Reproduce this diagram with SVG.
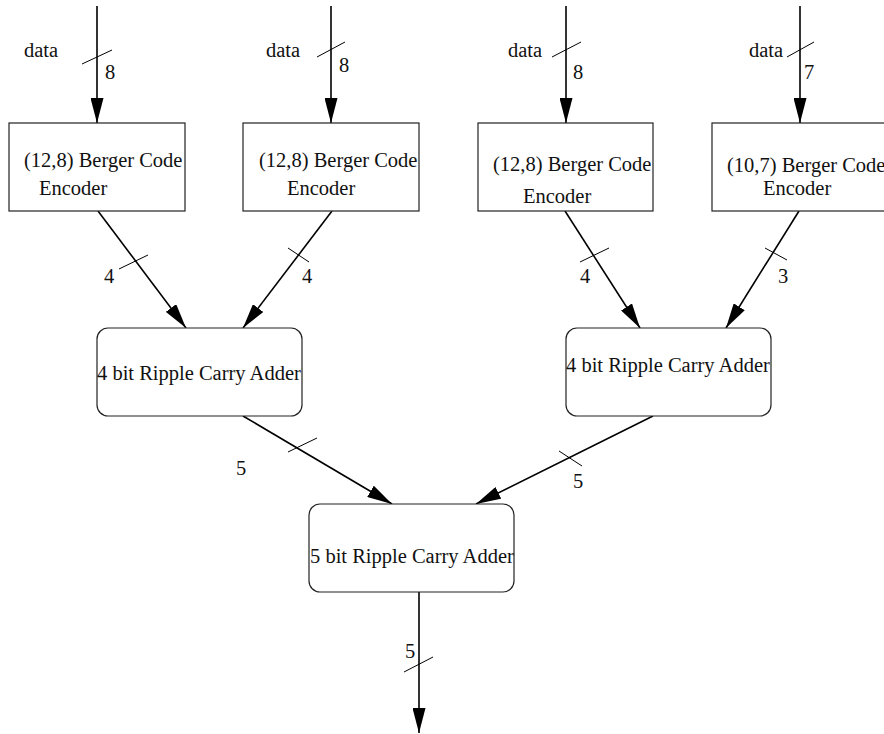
<svg xmlns="http://www.w3.org/2000/svg" width="884" height="734" viewBox="0 0 884 734">
<style>
text{font-family:"Liberation Serif","Times New Roman",serif;font-size:20.5px;fill:#111}
.box{fill:#fff;stroke:#222;stroke-width:1.2}
.w{stroke:#000;stroke-width:1.6;fill:none}
.s{stroke:#000;stroke-width:1;fill:none}
</style>
<defs>
<marker id="ah" viewBox="0 0 25 13" refX="25" refY="6.5" markerWidth="25" markerHeight="13" markerUnits="userSpaceOnUse" orient="auto"><path d="M0,0 L25,6.5 L0,13 z" fill="#000"/></marker>
</defs>
<g id="connectors">
<line class="w" x1="97" y1="6" x2="97" y2="123" marker-end="url(#ah)"/>
<line class="w" x1="331" y1="6" x2="331" y2="123" marker-end="url(#ah)"/>
<line class="w" x1="566" y1="6" x2="566" y2="123" marker-end="url(#ah)"/>
<line class="w" x1="800" y1="6" x2="800" y2="123" marker-end="url(#ah)"/>
<line class="w" x1="98" y1="211" x2="186" y2="328" marker-end="url(#ah)"/>
<line class="w" x1="332" y1="211" x2="243" y2="328" marker-end="url(#ah)"/>
<line class="w" x1="565" y1="211" x2="640" y2="328" marker-end="url(#ah)"/>
<line class="w" x1="799" y1="211" x2="726" y2="328" marker-end="url(#ah)"/>
<line class="w" x1="243" y1="416" x2="392" y2="504" marker-end="url(#ah)"/>
<line class="w" x1="653" y1="416" x2="476" y2="504" marker-end="url(#ah)"/>
<line class="w" x1="419" y1="592" x2="419" y2="733" marker-end="url(#ah)"/>
<line class="s" x1="82" y1="64" x2="112" y2="50"/>
<line class="s" x1="317" y1="57" x2="345" y2="42"/>
<line class="s" x1="552" y1="57" x2="581" y2="42"/>
<line class="s" x1="787" y1="57" x2="814" y2="42"/>
<line class="s" x1="119" y1="269" x2="148" y2="255"/>
<line class="s" x1="288" y1="248" x2="309" y2="262"/>
<line class="s" x1="580" y1="262" x2="609" y2="248"/>
<line class="s" x1="765" y1="248" x2="787" y2="260"/>
<line class="s" x1="288" y1="452" x2="317" y2="438"/>
<line class="s" x1="559" y1="451" x2="582" y2="466"/>
<line class="s" x1="404" y1="672" x2="433" y2="657"/>
<text x="24" y="57">data</text>
<text x="266" y="57">data</text>
<text x="508" y="57">data</text>
<text x="749" y="57">data</text>
<text x="105" y="79">8</text>
<text x="339" y="72">8</text>
<text x="573" y="79">8</text>
<text x="804" y="79">7</text>
<text x="104" y="283">4</text>
<text x="302" y="283">4</text>
<text x="580" y="283">4</text>
<text x="778" y="283">3</text>
<text x="236" y="475">5</text>
<text x="573" y="488">5</text>
<text x="405" y="658">5</text>
</g>
<g id="enc1">
<rect class="box" x="9" y="123" width="176" height="88"/>
<text x="24" y="167">(12,8) Berger Code</text>
<text x="39" y="195">Encoder</text>
</g>
<g id="enc2">
<rect class="box" x="243" y="123" width="176" height="88"/>
<text x="259" y="167">(12,8) Berger Code</text>
<text x="287" y="195">Encoder</text>
</g>
<g id="enc3">
<rect class="box" x="478" y="123" width="175" height="88"/>
<text x="493" y="171">(12,8) Berger Code</text>
<text x="523" y="203">Encoder</text>
</g>
<g id="enc4">
<rect class="box" x="712" y="123" width="190" height="88"/>
<text x="727" y="172">(10,7) Berger Code</text>
<text x="763" y="195">Encoder</text>
</g>
<g id="add1">
<rect class="box" x="97" y="328" width="205" height="88" rx="11"/>
<text x="97" y="380">4 bit Ripple Carry Adder</text>
</g>
<g id="add2">
<rect class="box" x="566" y="328" width="205" height="88" rx="11"/>
<text x="566" y="372">4 bit Ripple Carry Adder</text>
</g>
<g id="add3">
<rect class="box" x="309" y="504" width="205" height="88" rx="11"/>
<text x="310" y="563">5 bit Ripple Carry Adder</text>
</g>
</svg>
